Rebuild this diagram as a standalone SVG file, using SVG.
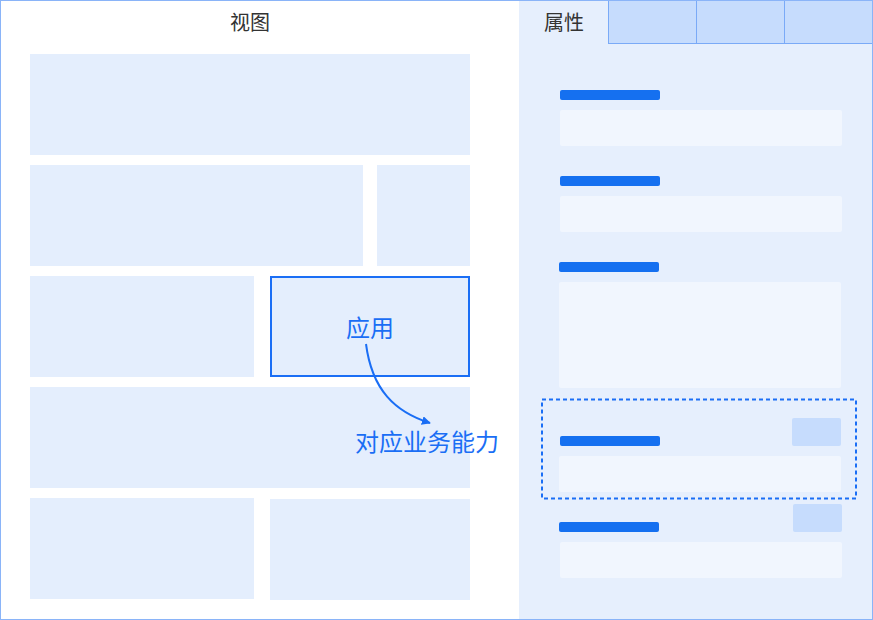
<svg xmlns="http://www.w3.org/2000/svg" width="873" height="620" viewBox="0 0 873 620">
<defs>
<style>
.blk{fill:#e4eefd}
.tab{fill:#c6dcfd;stroke:#7aaaf7;stroke-width:1}
.bar{fill:#1570f0}
.inp{fill:#f1f6fe}
.chip{fill:#c6dcfd}
.title{font-family:"Noto Sans CJK SC","Noto Sans",sans-serif;font-size:20px;fill:#333333;text-anchor:middle}
.blue{font-family:"Noto Sans CJK SC","Noto Sans",sans-serif;font-size:24px;fill:#1a6ef5;text-anchor:middle}
</style>
<marker id="ah" viewBox="0 0 10 10" refX="9" refY="5" markerWidth="9" markerHeight="9" markerUnits="userSpaceOnUse" orient="auto">
<path d="M0,0 L10,5 L0,10 z" fill="#1a6ef5"/>
</marker>
</defs>
<rect x="0" y="0" width="873" height="620" fill="#ffffff"/>
<g id="view-panel">
<text class="title" x="250" y="30">视图</text>
<rect class="blk" x="30" y="54" width="440" height="101"/>
<rect class="blk" x="30" y="165" width="333" height="101"/>
<rect class="blk" x="377" y="165" width="93" height="101"/>
<rect class="blk" x="30" y="276" width="224" height="101"/>
<rect class="blk" x="30" y="387" width="440" height="101"/>
<rect class="blk" x="30" y="498" width="224" height="101"/>
<rect class="blk" x="270" y="499" width="200" height="101"/>
</g>
<g id="app-node">
<rect x="271" y="277" width="198" height="99" fill="#e4eefd" stroke="#1a6ef5" stroke-width="2"/>
<text class="blue" x="370" y="337">应用</text>
</g>
<g id="capability-label">
<text class="blue" x="427" y="451">对应业务能力</text>
</g>
<g id="property-panel">
<rect x="519" y="0" width="354" height="620" fill="#e6effd"/>
<text class="title" x="564" y="30">属性</text>
<rect class="tab" x="608.5" y="0.5" width="88" height="43"/>
<rect class="tab" x="696.5" y="0.5" width="88" height="43"/>
<rect class="tab" x="784.5" y="0.5" width="88" height="43"/>
</g>
<g id="field-1">
<rect class="bar" x="560" y="90" width="100" height="10" rx="2"/>
<rect class="inp" x="560" y="110" width="282" height="36" rx="2"/>
</g>
<g id="field-2">
<rect class="bar" x="560" y="176" width="100" height="10" rx="2"/>
<rect class="inp" x="560" y="196" width="282" height="36" rx="2"/>
</g>
<g id="field-3">
<rect class="bar" x="559" y="262" width="100" height="10" rx="2"/>
<rect class="inp" x="559" y="282" width="282" height="106" rx="2"/>
</g>
<g id="field-4">
<rect class="chip" x="792" y="418" width="49" height="28" rx="2"/>
<rect class="bar" x="560" y="436" width="100" height="10" rx="2"/>
<rect class="inp" x="559" y="456" width="282" height="36" rx="2"/>
<rect x="542" y="399.5" width="314" height="99" fill="none" stroke="#1a6ef5" stroke-width="2" stroke-dasharray="4 3"/>
</g>
<g id="field-5">
<rect class="chip" x="793" y="504" width="49" height="28" rx="2"/>
<rect class="bar" x="559" y="522" width="100" height="10" rx="2"/>
<rect class="inp" x="560" y="542" width="282" height="36" rx="2"/>
</g>
<g id="connectors">
<path d="M366,344 C372,390 395,412 430,423" fill="none" stroke="#1a6ef5" stroke-width="2" marker-end="url(#ah)"/>
</g>
<rect x="0.5" y="0.5" width="872" height="619" fill="none" stroke="#8ab4f8" stroke-width="1"/>
</svg>
